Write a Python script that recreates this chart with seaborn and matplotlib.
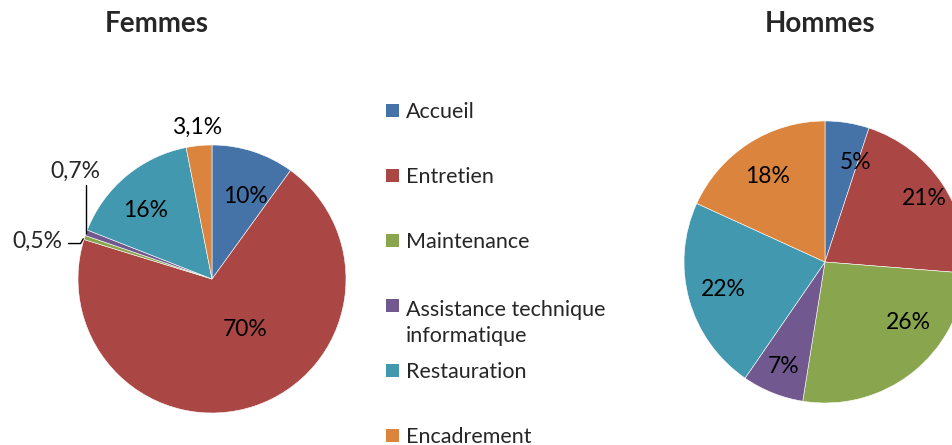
# Repartition par metier - Femmes / Hommes
import numpy as np
import matplotlib
matplotlib.use('Agg')
import matplotlib.pyplot as plt
import seaborn as sns
from matplotlib.patches import Rectangle

# Donnees
categories = ['Accueil', 'Entretien', 'Maintenance',
              'Assistance technique\ninformatique', 'Restauration', 'Encadrement']
femmes = [10, 70, 0.5, 0.7, 16, 3.1]
femmes_txt = ['10%', '70%', '0,5%', '0,7%', '16%', '3,1%']
hommes = [5, 21, 26, 7, 22, 18]
hommes_txt = ['5%', '21%', '26%', '7%', '22%', '18%']
couleurs = ['#4572A7', '#AA4643', '#89A54E', '#71588F', '#4198AF', '#DB843D']

sns.set_theme(style='white')
plt.rcParams['font.family'] = ['Lato', 'DejaVu Sans']
palette = sns.color_palette(couleurs)

W, H = 953, 445
fig = plt.figure(figsize=(W / 100, H / 100), dpi=100)


def px_axes(x0, y0, x1, y1):
    # boite en pixels (origine en haut a gauche)
    return fig.add_axes([x0 / W, (H - y1) / H, (x1 - x0) / W, (y1 - y0) / H])


def camembert(ax, valeurs, textes, pos, cache=()):
    wedges, _ = ax.pie(valeurs, colors=palette, startangle=90, counterclock=False,
                       wedgeprops=dict(linewidth=0.4, edgecolor='white'))
    ax.set_xlim(-1, 1)
    ax.set_ylim(-1, 1)
    ax.set_aspect('equal')
    for i, w in enumerate(wedges):
        if i in cache:
            continue
        r, dt = pos[i]
        a = np.deg2rad((w.theta1 + w.theta2) / 2 + dt)
        ax.text(r * np.cos(a), r * np.sin(a), textes[i], ha='center', va='center',
                fontsize=16.5, color='black', clip_on=False)
    return wedges


# Femmes
ax1 = px_axes(78, 145, 346, 413)
pos_f = [(0.66, -4), (0.45, 15), None, None, (0.71, 4), (1.14, 0)]
wf = camembert(ax1, femmes, femmes_txt, pos_f, cache=(2, 3))

# petites parts avec lignes de rappel
a = np.deg2rad((wf[3].theta1 + wf[3].theta2) / 2)
ex, ey = np.cos(a), np.sin(a)
ax1.plot([ex, ex], [ey, ey + 0.36], color='black', lw=1, clip_on=False)
ax1.text(ex - 0.084, ey + 0.455, femmes_txt[3], ha='center', va='center',
         fontsize=16.5, clip_on=False)

a = np.deg2rad((wf[2].theta1 + wf[2].theta2) / 2)
ex, ey = np.cos(a), np.sin(a)
ax1.plot([ex - 0.01, ex - 0.03, ex - 0.12], [ey - 0.01, ey - 0.045, ey - 0.045],
         color='black', lw=1, clip_on=False)
ax1.text(ex - 0.165, ey - 0.025, femmes_txt[2], ha='right', va='center',
         fontsize=16.5, clip_on=False)

# Hommes
ax2 = px_axes(684, 121, 966, 403)
pos_h = [(0.74, -8), (0.84, -1), (0.73, 15.5), (0.80, 0), (0.745, 0), (0.73, 1)]
camembert(ax2, hommes, hommes_txt, pos_h)

# Titres
fig.text(157 / W, 1 - 24 / H, 'Femmes', ha='center', va='center',
         fontsize=20, fontweight='bold')
fig.text(820 / W, 1 - 24 / H, 'Hommes', ha='center', va='center',
         fontsize=20, fontweight='bold')

# Legende
fs = 15.5
fs_px = fs * 100 / 72
cap = 0.36 * fs_px
interligne = 1.38
for i, cat in enumerate(categories):
    y = 110 + 65.0 * i
    n = cat.count('\n')
    fig.add_artist(Rectangle(((386.5) / W, 1 - (y + 6.5) / H), 13 / W, 13 / H,
                             facecolor=palette[i], edgecolor='none',
                             transform=fig.transFigure))
    fig.text(406 / W, 1 - (y + cap + n * interligne * fs_px) / H, cat,
             ha='left', va='baseline', fontsize=fs, linespacing=interligne)

fig.savefig('out.png', dpi=100)
